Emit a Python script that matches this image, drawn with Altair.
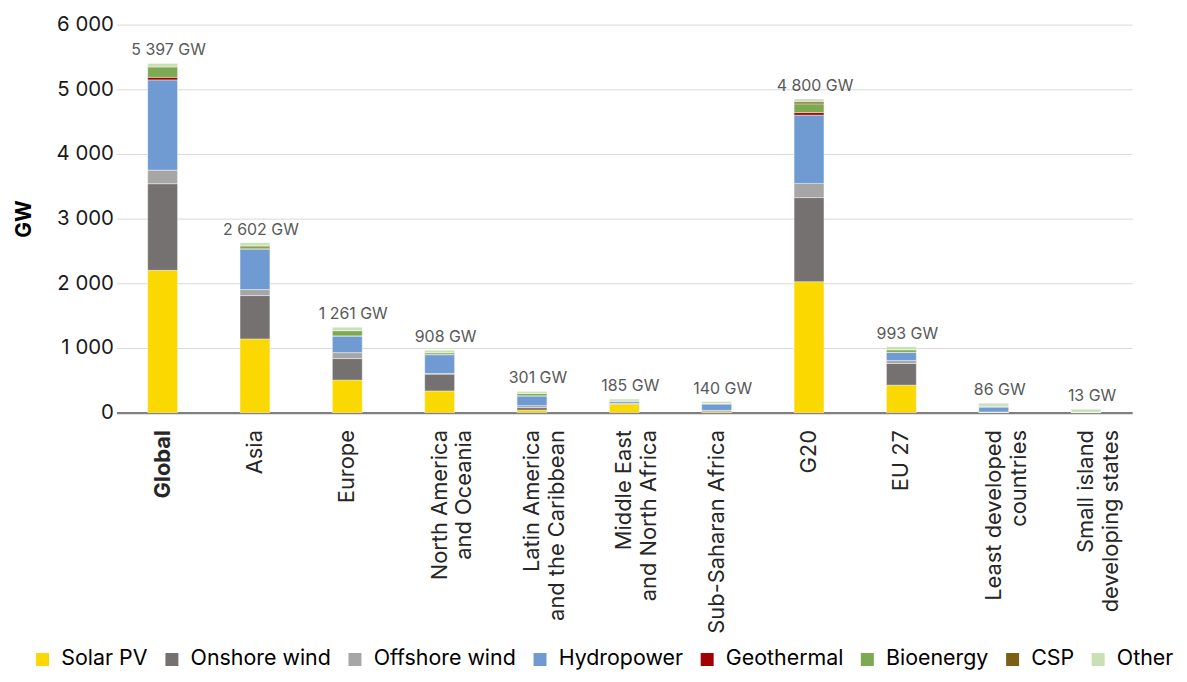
import altair as alt
import pandas as pd

regions = ["Global", "Asia", "Europe", "North America|and Oceania",
           "Latin America|and the Caribbean", "Middle East|and North Africa",
           "Sub-Saharan Africa", "G20", "EU 27", "Least developed|countries",
           "Small island|developing states"]

techs = ["Solar PV", "Onshore wind", "Offshore wind", "Hydropower",
         "Geothermal", "Bioenergy", "CSP", "Other"]
colors = ["#FAD800", "#757171", "#A6A6A6", "#6F9BD2",
          "#A30000", "#7EA953", "#7C5F14", "#C8E0B4"]

solar_pv      = [2200, 1140, 503, 335, 38, 130, 15, 2025, 425, 8, 3]
onshore_wind  = [1340, 670, 333, 260, 40, 12, 20, 1300, 335, 2, 0]
offshore_wind = [210, 93, 92, 10, 30, 0, 0, 220, 45, 0, 0]
hydropower    = [1395, 625, 257, 290, 150, 28, 100, 1055, 125, 78, 3]
geothermal    = [40, 5, 2, 5, 3, 1, 1, 40, 1, 0, 0]
bioenergy     = [160, 45, 80, 25, 35, 4, 5, 135, 40, 12, 2]
csp           = [10, 5, 3, 5, 2, 5, 1, 30, 3, 0, 0]
other         = [45, 45, 50, 35, 30, 30, 30, 45, 45, 45, 45]

total_labels = [5397, 2602, 1261, 908, 301, 185, 140, 4800, 993, 86, 13]

series = [solar_pv, onshore_wind, offshore_wind, hydropower,
          geothermal, bioenergy, csp, other]

rows = []
for ti, (t, vals) in enumerate(zip(techs, series)):
    for ri, r in enumerate(regions):
        rows.append({"region": r, "tech": t, "order": ti,
                     "value": vals[ri], "label": total_labels[ri]})
df = pd.DataFrame(rows)

FONT = "Inter"

x_enc = alt.X("region:N", sort=regions, title=None,
              scale=alt.Scale(range=[-8, 1013], paddingInner=0, paddingOuter=0),
              axis=alt.Axis(labelAngle=-90, labelFontSize=22, labelColor="#262626",
                            labelPadding=17, ticks=False, domain=False,
                            labelLimit=400, labelLineHeight=25,
                            labelExpr="split(datum.label, '|')",
                            labelFontWeight={"condition": {"test": "datum.value === 'Global'",
                                                           "value": "bold"},
                                             "value": "normal"}))

bars = alt.Chart(df).mark_bar(size=30, stroke="white", strokeWidth=0.4).encode(
    x=x_enc,
    y=alt.Y("sum(value):Q", title="GW",
            scale=alt.Scale(domain=[0, 6000], nice=False),
            axis=alt.Axis(values=[0, 1000, 2000, 3000, 4000, 5000, 6000],
                          labelExpr="replace(format(datum.value, ','), ',', ' ')",
                          labelFontSize=20.5, labelColor="#1a1a1a", labelPadding=11,
                          ticks=False, domain=False,
                          gridColor={"condition": {"test": "datum.value === 0",
                                                   "value": "#808080"},
                                     "value": "#D9D9D9"},
                          gridWidth={"condition": {"test": "datum.value === 0",
                                                   "value": 2.5},
                                     "value": 1},
                          titleFontSize=21, titleFontWeight="bold", titleColor="#000000",
                          titlePadding=22)),
    color=alt.Color("tech:N", sort=techs,
                    scale=alt.Scale(domain=techs, range=colors),
                    legend=alt.Legend(title=None, orient="none", direction="horizontal",
                                      legendX=-93, legendY=627,
                                      symbolType="square", symbolSize=170,
                                      symbolStrokeWidth=0, labelFontSize=21.5,
                                      labelColor="#000000", labelOffset=8,
                                      columnPadding=13, columns=8)),
    order=alt.Order("order:Q", sort="ascending"),
)

labels = alt.Chart(df).transform_aggregate(
    top="sum(value)", lab="max(label)", groupby=["region"]
).transform_calculate(
    txt="replace(format(datum.lab, ','), ',', ' ') + ' GW'"
).mark_text(baseline="bottom", dy=-5, dx=6, fontSize=16, color="#595959", font=FONT).encode(
    x=alt.X("region:N", sort=regions),
    y=alt.Y("top:Q"),
    text="txt:N",
)

chart = alt.layer(bars, labels).properties(
    width=1045, height=390,
    padding={"left": 5, "top": 5, "right": 5, "bottom": 0},
).configure(font=FONT).configure_view(stroke=None)

chart.save("out.html", embed_options={"renderer": "svg", "actions": False})
